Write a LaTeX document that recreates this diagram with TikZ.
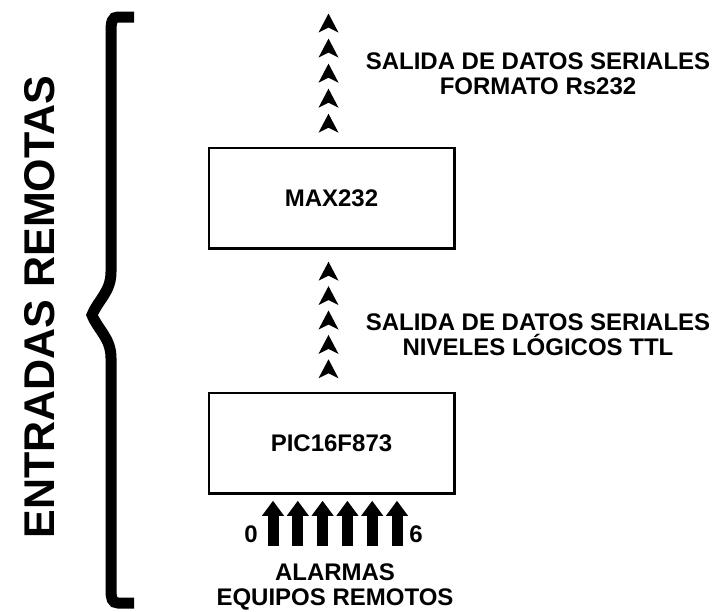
\documentclass[tikz,border=0pt]{standalone}
\usepackage{fontspec}
\setmainfont{Liberation Sans}
\usepackage{tikz}
\usetikzlibrary{arrows.meta}
\usetikzlibrary{calc}
\usetikzlibrary{positioning}
\tikzset{
    chip/.style={
        draw,
        line width=1.5pt,
        minimum width=245pt,
        minimum height=100pt,
        font=\fontsize{24}{25}\selectfont\bfseries
    },
    note/.style={
        align=center,
        font=\fontsize{24}{25}\selectfont\bfseries
    },
    big arrow/.style={
        line width=11pt,
        -{Triangle[width=21pt,length=15pt]},
        shorten >=7pt
    }
}
\newcommand{\chevron}[1]{%
  \fill (#1) ++(0,-10) -- ++(10,19) -- ++(-10,-5) -- ++(-10,5) -- cycle;}

\begin{document}
\begin{tikzpicture}[x=1pt,y=-1pt]
            \useasboundingbox (0,0) rectangle (720,611);
            \node[chip] (max) at (331.5,198) {MAX232};
            \node[chip] (pic) at (331.5,443) {PIC16F873};
            \coordinate (out) at (331.5,0);
            % shadow edges
            \foreach \b in {max,pic}
              \draw[line width=3pt] (\b.south west) -- (\b.south east) -- (\b.north east);
            % serial data chevrons
            \foreach \f in {0.16,0.33,0.50,0.67,0.84}
              {
              \chevron{$(pic.north)!\f!(max.south)+(-3,0)$}
              \chevron{$(max.north)!\f!(out)+(-3,0)$}
              }
            \node[note] (ttl) at (538,335) {SALIDA DE DATOS SERIALES\\NIVELES LÓGICOS TTL};
            \node[note] (rs) at (538,74) {SALIDA DE DATOS SERIALES\\FORMATO Rs232};
            % alarm inputs
            \foreach \i in {0,...,5}
              {
              \coordinate (in\i) at (273+24.8*\i,546);
              \draw[big arrow] (in\i) -- (in\i |- pic.south);
              }
            \node[note] (zero) at (251,534) {0};
            \node[note] (six) at (416,534) {6};
            \node[note] (alarm) at (335,587) {ALARMAS\\EQUIPOS REMOTOS};
            % brace
            \draw[line width=11pt] (134,17) -- (118,17)
              .. controls (112,17) and (111,22) .. (111,32) -- (111,272)
              .. controls (111,292) and (98,300) .. (92,315)
              .. controls (98,330) and (111,338) .. (111,358) -- (111,590)
              .. controls (111,598) and (112,603) .. (118,603) -- (134,603);
            \node[rotate=90,font=\fontsize{43}{43}\selectfont\bfseries] (inputs) at (40,307) {ENTRADAS REMOTAS};
          \end{tikzpicture}
\end{document}
